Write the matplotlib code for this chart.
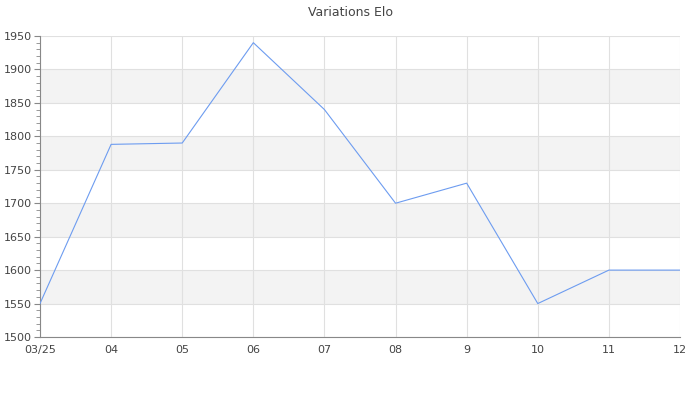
import matplotlib
matplotlib.use("Agg")
import matplotlib.pyplot as plt
from matplotlib.ticker import MultipleLocator

labels = ["03/25", "04", "05", "06", "07", "08", "9", "10", "11", "12"]
elo = [1550, 1788, 1790, 1940, 1840, 1700, 1730, 1550, 1600, 1600]

fig = plt.figure(figsize=(7, 4), dpi=100)
ax = fig.add_axes([40/700, 1-337/400, 640/700, (337-36)/400])

x = list(range(len(labels)))
ymin, ymax = 1500, 1950
for lo in range(1550, 1950, 100):
    ax.axhspan(lo, lo + 50, color="#f3f3f3", zorder=0, lw=0)
ax.plot(x, elo, color="#6d9cf0", lw=0.8, zorder=3)

ax.set_xlim(0, len(labels) - 1)
ax.set_ylim(ymin, ymax)
ax.set_xticks(x)
ax.set_xticklabels(labels)
ax.yaxis.set_major_locator(MultipleLocator(50))
ax.yaxis.set_minor_locator(MultipleLocator(10))
ax.grid(True, which="major", color="#e0e0e0", lw=0.8, zorder=1)
ax.set_axisbelow(True)
for s in ["top", "right"]:
    ax.spines[s].set_visible(False)
for s in ["left", "bottom"]:
    ax.spines[s].set_color("#888888")
ax.tick_params(axis="y", which="major", length=4, color="#888888", labelsize=8, labelcolor="#444444", pad=2)
ax.tick_params(axis="y", which="minor", length=3, color="#888888")
ax.tick_params(axis="x", length=0, labelsize=8, labelcolor="#444444", pad=6)
fig.suptitle("Variations Elo", y=0.985, fontsize=9, color="#444444")
fig.savefig("out.png", dpi=100)
